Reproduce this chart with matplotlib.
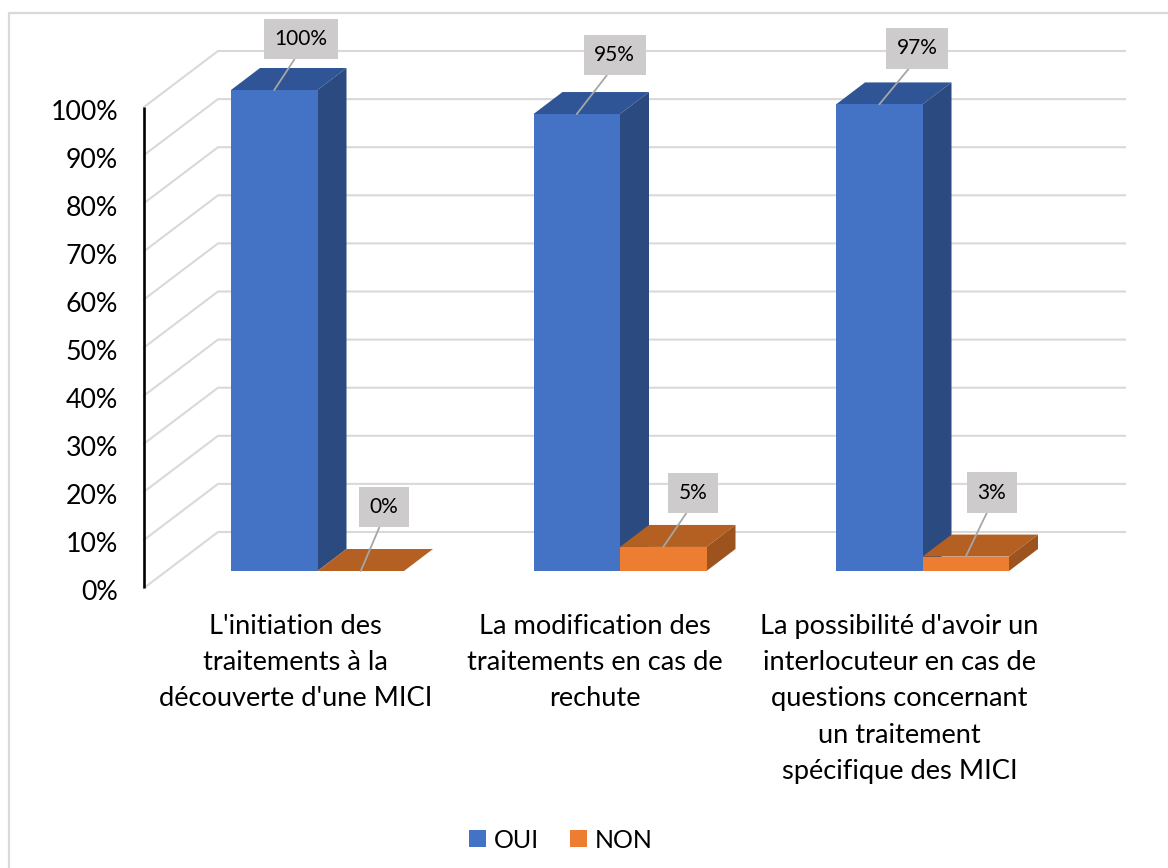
"""Pseudo-3D clustered columns, drawn on one figure-wide axes."""
import matplotlib
matplotlib.use("Agg")
import matplotlib.pyplot as plt
from matplotlib.patches import Polygon

categories = [
    "L'initiation des\ntraitements à la\ndécouverte d'une MICI",
    "La modification des\ntraitements en cas de\nrechute",
    "La possibilité d'avoir un\ninterlocuteur en cas de\nquestions concernant\nun traitement\nspécifique des MICI",
]
oui = [100, 95, 97]
non = [0, 5, 3]
ticks = list(range(0, 101, 10))

# label box centre relative to the bar anchor, in pixels
oui_offset = [(27, 51), (38, 59), (38, 56)]
non_offset = [(23, 64), (30, 54), (26, 64)]
label_nudge = [-22, -25, -23]

W, H = 1168, 868
PX_X = 302.5      # pixels per category
PX_Y = 4.81       # pixels per percent
X0, Y0 = 317.5, 571   # pixel of category 0 / 0% on the bar plane

plt.rcParams["font.family"] = ["Lato", "DejaVu Sans"]
fig = plt.figure(figsize=(W / 100, H / 100), dpi=100)
ax = fig.add_axes([0, 0, 1, 1])
ax.set_xlim(-X0 / PX_X, (W - X0) / PX_X)
ax.set_ylim((Y0 - H) / PX_Y, Y0 / PX_Y)
ax.axis("off")


def dx(px):
    return px / PX_X


def dy(px):
    return px / PX_Y


# frame of the picture
ax.plot([dx(9 - X0), dx(9 - X0), dx(W - X0)], [dy(Y0 - H), dy(Y0 - 13), dy(Y0 - 13)],
        color="#d9d9d9", lw=1.6, zorder=1)

# walls: diagonal + back gridline for each tick
front_x, back_x, end_x = dx(144 - X0), dx(218 - X0), dx(1125 - X0)
front_y, back_y = dy(Y0 - 588), dy(Y0 - 532)
for t in ticks:
    ax.plot([front_x, back_x, end_x], [front_y + t, back_y + t, back_y + t],
            color="#d9d9d9", lw=1.5, zorder=1, solid_joinstyle="miter")
    ax.text(dx(118 - X0), front_y + t - dy(5), f"{t}%", ha="right", va="center",
            fontsize=19.3, color="black", zorder=5)
ax.plot([front_x, front_x], [front_y, front_y + 100], color="black", lw=1.9, zorder=2,
        solid_capstyle="butt")

width = 86.5 / PX_X
ddx, ddy = dx(29), dy(22)


def box3d(left, value, top_color, side_color):
    right = left + width
    ax.add_patch(Polygon([(left, value), (right, value), (right + ddx, value + ddy),
                          (left + ddx, value + ddy)], color=top_color, lw=0, zorder=3))
    if value > 0:
        ax.add_patch(Polygon([(right, 0), (right + ddx, ddy), (right + ddx, value + ddy),
                              (right, value)], color=side_color, lw=0, zorder=3))


xs = list(range(len(categories)))
ax.bar([x - width / 2 for x in xs], oui, width, color="#4472c4", label="OUI", zorder=4)
ax.bar([x + width / 2 for x in xs], non, width, color="#ed7d31", label="NON", zorder=4)
for x, a, b in zip(xs, oui, non):
    box3d(x - width, a, "#2f5597", "#2a4a80")
    box3d(x, b, "#b46022", "#9c531e")

for series, offs, shift in [(oui, oui_offset, -width / 2), (non, non_offset, width / 2)]:
    for x, v, (ox, oy) in zip(xs, series, offs):
        ax.annotate(f"{v}%", xy=(x + shift, v), xytext=(ox * 0.72, oy * 0.72),
                    textcoords="offset points", ha="center", va="center",
                    fontsize=15, color="black", zorder=6,
                    bbox=dict(boxstyle="square,pad=0.5", fc="#cdcbcb", ec="none"),
                    arrowprops=dict(arrowstyle="-", color="#a6a6a6", lw=1.3,
                                    relpos=(0.5, 0), shrinkA=0, shrinkB=0),
                    annotation_clip=False)

# category labels sit under the front edge, shifted left of the bar pair
for x, nudge, label in zip(xs, label_nudge, categories):
    ax.text(x + dx(nudge), dy(Y0 - 614), label, ha="center", va="top", fontsize=19.6,
            linespacing=1.56, color="black", zorder=5)

ax.legend(loc="center", bbox_to_anchor=(561 / W, 1 - 840 / H), ncol=2, frameon=False,
          fontsize=18, handlelength=0.68, handleheight=0.68, handletextpad=0.32,
          columnspacing=1.24)

fig.savefig("out.png", dpi=100)
